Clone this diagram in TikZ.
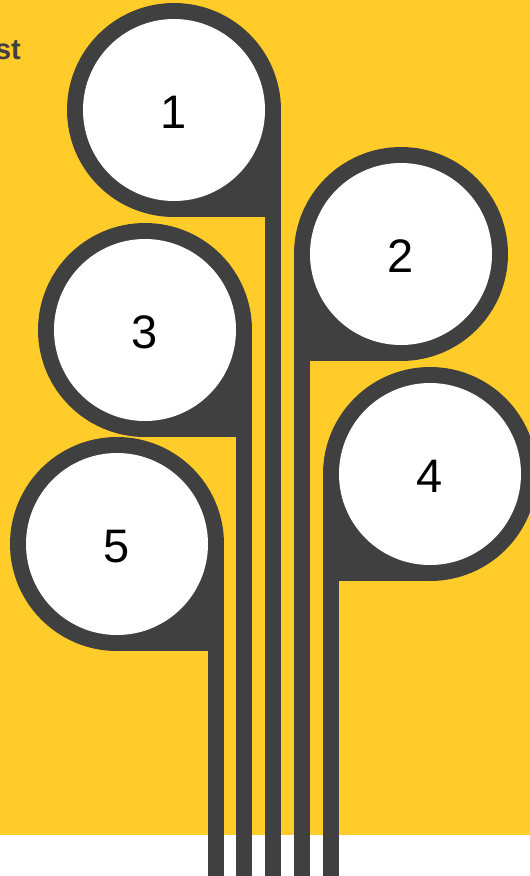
\documentclass[tikz,border=0pt]{standalone}
\usepackage{fontspec}
\setmainfont{Liberation Sans}
\definecolor{bgyellow}{RGB}{255,204,41}
\definecolor{stemgray}{RGB}{64,64,64}
\begin{document}
\begin{tikzpicture}[x=1pt,y=-1pt,
  darkfill/.style={fill=stemgray},
  numlabel/.style={anchor=base,inner sep=0pt,text=black,font=\fontsize{47}{56}\selectfont},
  titletext/.style={anchor=base east,inner sep=0pt,text=stemgray,font=\bfseries\fontsize{29}{34}\selectfont}]
\useasboundingbox (0,0) rectangle (530,876);
\clip (0,0) rectangle (530,876);
\fill[bgyellow] (0,0) rectangle (530,835);
\fill[white] (0,835) rectangle (530,876);
% bulbs with the stem on the right
\foreach \cx/\cy/\n in {174/110/1, 145/330/3, 117/544/5} {
  \coordinate (c\n) at (\cx,\cy);
  \fill[darkfill] (c\n) circle[radius=107];
  \fill[darkfill] (c\n) rectangle ++(107,107);
  \fill[darkfill] (\cx+91,\cy) rectangle (\cx+107,876);
  \fill[white] (c\n) circle[radius=91];
  \node[numlabel] (n\n) at (\cx,\cy+18) {\n};
}
% bulbs with the stem on the left
\foreach \cx/\cy/\n in {401/254/2, 430/474/4} {
  \coordinate (c\n) at (\cx,\cy);
  \fill[darkfill] (c\n) circle[radius=107];
  \fill[darkfill] (c\n) rectangle ++(-107,107);
  \fill[darkfill] (\cx-107,\cy) rectangle (\cx-91,876);
  \fill[white] (c\n) circle[radius=91];
  \node[numlabel] (n\n) at (\cx,\cy+18) {\n};
}
\node[titletext] (title) at (21,59) {st};
\end{tikzpicture}
\end{document}
